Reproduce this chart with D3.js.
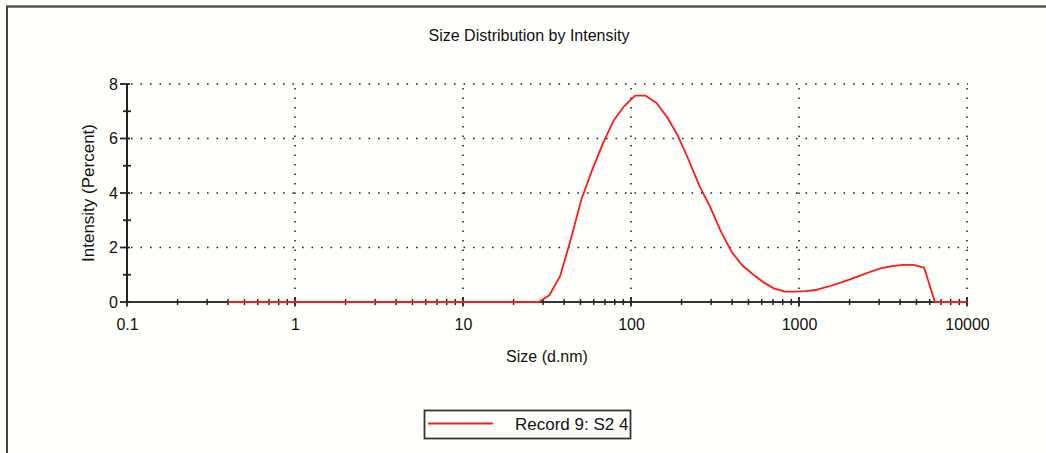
<!DOCTYPE html>
<html>
<head>
<meta charset="utf-8">
<script src="https://cdn.jsdelivr.net/npm/d3@7"></script>
<style>
  body { margin: 0; background: #fffffb; }
  svg { display: block; }
  text { font-family: "Liberation Sans", Arial, sans-serif; fill: #111; }
</style>
</head>
<body>
<script>
// size bins (d.nm), as exported by the instrument
var sizes = [0.4, 0.4632, 0.5365, 0.6213, 0.7195, 0.8332, 0.9649, 1.117, 1.294, 1.499,
             1.736, 2.01, 2.328, 2.696, 3.122, 3.615, 4.187, 4.849, 5.615, 6.503,
             7.531, 8.721, 10.1, 11.7, 13.54, 15.69, 18.17, 21.04, 24.36, 28.21,
             32.67, 37.84, 43.82, 50.75, 58.77, 68.06, 78.82, 91.28, 105.7, 122.4,
             141.8, 164.2, 190.1, 220.2, 255.0, 295.3, 342.0, 396.1, 458.7, 531.2,
             615.1, 712.4, 825.0, 955.4, 1106, 1281, 1484, 1718, 1990, 2305,
             2669, 3091, 3580, 4145, 4801, 5560, 6439, 7456, 8635, 10000];

// intensity (%), one per bin
var intensity = [0, 0, 0, 0, 0, 0, 0, 0, 0, 0,
                 0, 0, 0, 0, 0, 0, 0, 0, 0, 0,
                 0, 0, 0, 0, 0, 0, 0, 0, 0, 0,
                 0.25, 0.95, 2.3, 3.78, 4.85, 5.82, 6.66, 7.19, 7.57, 7.57,
                 7.3, 6.78, 6.1, 5.22, 4.27, 3.5, 2.6, 1.85, 1.35, 1.02,
                 0.72, 0.49, 0.38, 0.38, 0.4, 0.45, 0.56, 0.68, 0.82, 0.97,
                 1.11, 1.24, 1.32, 1.36, 1.36, 1.26, 0, 0, 0, 0];

var xMajor = [0.1, 1, 10, 100, 1000, 10000];
var xLabels = ["0.1", "1", "10", "100", "1000", "10000"];
var yMajor = [0, 2, 4, 6, 8];
var yMinor = [1, 3, 5, 7];

var title = "Size Distribution by Intensity";
var xTitle = "Size (d.nm)";
var yTitle = "Intensity (Percent)";
var seriesName = "Record 9: S2 4";

var width = 1046, height = 453;
// plot box (note: "top" is taken by window.top, so prefix these)
var pLeft = 127, pRight = 967, pTop = 84, pBottom = 302;

var svg = d3.select("body").append("svg")
    .attr("width", width)
    .attr("height", height);

// frame (top and left edge of the report panel)
svg.append("rect").attr("x", 0).attr("y", 0).attr("width", width).attr("height", height).attr("fill", "#fffffb");
svg.append("line").attr("x1", 6).attr("x2", width).attr("y1", 6.5).attr("y2", 6.5)
    .attr("stroke", "#555").attr("stroke-width", 2.5);
svg.append("line").attr("x1", 7).attr("x2", 7).attr("y1", 6).attr("y2", height)
    .attr("stroke", "#444").attr("stroke-width", 2);

var x = d3.scaleLog().domain([0.1, 10000]).range([pLeft, pRight]);
var y = d3.scaleLinear().domain([0, 8]).range([pBottom, pTop]);

// dotted grid
var grid = svg.append("g").attr("stroke", "#222").attr("stroke-width", 1.6)
    .attr("stroke-dasharray", "1.6 7.9");
grid.selectAll(".gy").data(yMajor.filter(function(d){ return d > 0; }))
  .enter().append("line")
    .attr("x1", pLeft + 4).attr("x2", pRight + 1)
    .attr("y1", function(d){ return y(d); }).attr("y2", function(d){ return y(d); });
grid.selectAll(".gx").data(xMajor.slice(1))
  .enter().append("line")
    .attr("x1", function(d){ return x(d); }).attr("x2", function(d){ return x(d); })
    .attr("y1", pTop + 4).attr("y2", pBottom);

// x axis
var xMinor = x.ticks().filter(function(d){ return xMajor.indexOf(d) < 0; });
var xAxis = svg.append("g").attr("transform", "translate(0," + pBottom + ")");
xAxis.call(d3.axisBottom(x).tickValues(xMajor).tickSize(0).tickPadding(17)
      .tickFormat(function(d, i){ return xLabels[i]; }));
xAxis.select(".domain").remove();
xAxis.attr("font-size", 16).attr("font-family", null);
xAxis.selectAll("text").attr("font-size", 16);
xAxis.append("line").attr("x1", pLeft).attr("x2", pRight).attr("stroke", "#333").attr("stroke-width", 2);
xAxis.selectAll(".mn").data(xMinor).enter().append("line")
    .attr("x1", function(d){ return x(d); }).attr("x2", function(d){ return x(d); })
    .attr("y1", -3).attr("y2", 3).attr("stroke", "#222").attr("stroke-width", 1.5);
xAxis.selectAll(".mj").data(xMajor).enter().append("line")
    .attr("x1", function(d){ return x(d); }).attr("x2", function(d){ return x(d); })
    .attr("y1", -4.5).attr("y2", 4.5).attr("stroke", "#222").attr("stroke-width", 1.8);

// y axis
var yAxis = svg.append("g").attr("transform", "translate(" + pLeft + ",0)");
yAxis.call(d3.axisLeft(y).tickValues(yMajor).tickSize(0).tickPadding(9));
yAxis.select(".domain").remove();
yAxis.attr("font-size", 16).attr("font-family", null);
yAxis.selectAll("text").attr("font-size", 16);
yAxis.append("line").attr("y1", pTop).attr("y2", pBottom).attr("stroke", "#222").attr("stroke-width", 2);
yAxis.selectAll(".mj").data(yMajor).enter().append("line")
    .attr("x1", -7).attr("x2", 3)
    .attr("y1", function(d){ return y(d); }).attr("y2", function(d){ return y(d); })
    .attr("stroke", "#222").attr("stroke-width", 1.8);
yAxis.selectAll(".mn").data(yMinor).enter().append("line")
    .attr("x1", -4).attr("x2", 4)
    .attr("y1", function(d){ return y(d); }).attr("y2", function(d){ return y(d); })
    .attr("stroke", "#222").attr("stroke-width", 1.8);

// the distribution curve
var data = sizes.map(function(s, i){ return { size: s, value: intensity[i] }; });
var line = d3.line()
    .x(function(d){ return x(d.size); })
    .y(function(d){ return y(d.value); });
svg.append("path").datum(data)
    .attr("d", line)
    .attr("fill", "none")
    .attr("stroke", "#ff1a1a")
    .attr("stroke-width", 1.8)
    .attr("stroke-linejoin", "round");

// titles
svg.append("text").attr("x", 529).attr("y", 41).attr("text-anchor", "middle")
    .attr("font-size", 16).text(title);
svg.append("text").attr("x", (pLeft + pRight) / 2).attr("y", 362).attr("text-anchor", "middle")
    .attr("font-size", 16).text(xTitle);
svg.append("text").attr("transform", "translate(94," + (pTop + pBottom) / 2 + ") rotate(-90)")
    .attr("text-anchor", "middle").attr("font-size", 17).text(yTitle);

// legend
var legend = svg.append("g").attr("transform", "translate(424,410)");
legend.append("rect").attr("x", 0.5).attr("y", 0.5).attr("width", 206).attr("height", 28)
    .attr("fill", "#fffffb").attr("stroke", "#333").attr("stroke-width", 1.8);
legend.append("line").attr("x1", 4).attr("x2", 69).attr("y1", 13.5).attr("y2", 13.5)
    .attr("stroke", "#ff1a1a").attr("stroke-width", 1.8);
legend.append("text").attr("x", 91).attr("y", 20).attr("font-size", 17).text(seriesName);
</script>
</body>
</html>
